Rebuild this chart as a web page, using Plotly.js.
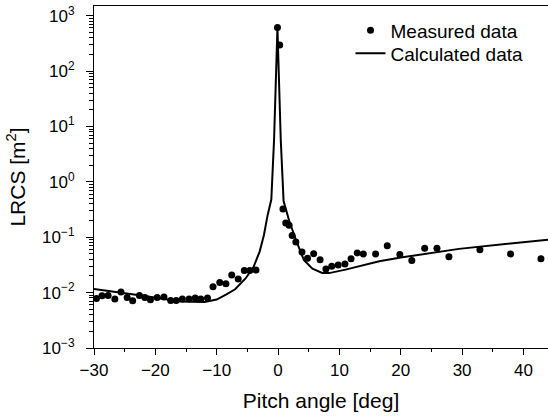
<!DOCTYPE html>
<html>
<head>
<meta charset="utf-8">
<script src="https://cdn.plot.ly/plotly-3.0.1.min.js"></script>
<style>html,body{margin:0;padding:0;background:#fff;}#chart{width:548px;height:418px;}</style>
</head>
<body>
<div id="chart"></div>
<script>
// Measured data (pitch angle in deg, LRCS in m^2)
var measuredAngle = [-29.6, -28.7, -27.7, -26.6, -25.6, -24.6, -23.7, -22.6, -21.7, -20.8,
  -19.7, -18.6, -17.5, -16.6, -15.6, -14.5, -13.5, -12.6, -11.5,
  -10.6, -9.5, -8.5, -7.55, -6.5, -5.5, -4.6, -3.6,
  -0.1, 0.27, 0.8, 1.25, 1.8, 2.3, 2.9, 3.9, 4.8, 5.8, 6.85, 7.8, 8.75, 9.8, 10.9, 11.9, 12.9, 13.9,
  15.9, 17.8, 19.85, 21.8, 23.9, 25.9, 27.85, 32.9, 37.9, 42.85];
var measuredLRCS = [0.0078, 0.0088, 0.0089, 0.0077, 0.0103, 0.0082, 0.0071, 0.0089, 0.0082, 0.0074,
  0.0082, 0.0083, 0.0072, 0.0072, 0.0077, 0.0077, 0.008, 0.0077, 0.008,
  0.0127, 0.0153, 0.0144, 0.0207, 0.0176, 0.025, 0.025, 0.0255,
  609, 295, 0.325, 0.18, 0.164, 0.108, 0.082, 0.054, 0.0417, 0.0505, 0.0394, 0.0267, 0.0298, 0.0316, 0.033, 0.041, 0.052, 0.05,
  0.05, 0.0705, 0.049, 0.0382, 0.063, 0.063, 0.0446, 0.0597, 0.0499, 0.041];

// Calculated data
var calcAngle = [-30, -26, -22, -18, -16, -12, -10, -8.5, -7, -5.3, -4, -3, -2.3, -1.7, -1.1, -0.65, -0.1,
  0.44, 0.9, 1.8, 2.9, 4.2, 5.6, 7.2, 8.3, 11, 16.5, 20, 29.5, 44];
var calcLRCS = [0.0116, 0.0102, 0.0088, 0.0075, 0.0069, 0.0068, 0.0075, 0.0092, 0.0115, 0.018, 0.029, 0.055, 0.11, 0.25, 0.48, 5.8, 600,
  5.8, 0.45, 0.2, 0.09, 0.039, 0.027, 0.0226, 0.0225, 0.026, 0.0367, 0.043, 0.0616, 0.0905];

var xTickVals = [-30, -20, -10, 0, 10, 20, 30, 40];
var yTickVals = [0.001, 0.01, 0.1, 1, 10, 100, 1000];
var yTickText = ['10<sup>\u22123</sup>', '10<sup>\u22122</sup>', '10<sup>\u22121</sup>', '10<sup>0</sup>',
  '10<sup>1</sup>', '10<sup>2</sup>', '10<sup>3</sup>'];

// minor tick positions on the log axis (2..9 of each decade)
var yMinorVals = [];
[0.001, 0.01, 0.1, 1, 10, 100].forEach(function (d) {
  for (var k = 2; k <= 9; k++) yMinorVals.push(d * k);
});

var fontFam = 'Liberation Sans, Arial, Helvetica, sans-serif';

var traces = [
  {
    x: measuredAngle, y: measuredLRCS, type: 'scatter', mode: 'markers',
    name: 'Measured data', legend: 'legend',
    marker: {color: '#000', size: 7}
  },
  {
    x: calcAngle, y: calcLRCS, type: 'scatter', mode: 'lines',
    name: 'Calculated data', legend: 'legend2',
    line: {color: '#000', width: 2}
  }
];

var legendFont = {family: fontFam, size: 19, color: '#000'};

var layout = {
  width: 548, height: 418,
  margin: {l: 94, r: 0, t: 6, b: 70},
  paper_bgcolor: '#fff', plot_bgcolor: '#fff',
  font: {family: fontFam, color: '#000', size: 17},
  showlegend: true,
  legend: {
    x: 0.565, y: 0.984, xanchor: 'left', yanchor: 'top',
    bgcolor: 'rgba(0,0,0,0)', borderwidth: 0, font: legendFont
  },
  legend2: {
    x: 0.565, y: 0.9166, xanchor: 'left', yanchor: 'top',
    bgcolor: 'rgba(0,0,0,0)', borderwidth: 0, font: legendFont
  },
  xaxis: {
    range: [-30, 44],
    tickmode: 'array',
    tickvals: xTickVals,
    ticktext: xTickVals.map(function (v) { return v < 0 ? '\u2212' + Math.abs(v) : String(v); }),
    ticks: 'outside', ticklen: 6, tickwidth: 1, tickcolor: '#000',
    ticklabelstandoff: 1,
    minor: {ticks: 'outside', ticklen: 3, tickwidth: 1, tickcolor: '#000', dtick: 5, tick0: 0, showgrid: false},
    showline: true, linecolor: '#000', linewidth: 1, mirror: true,
    showgrid: false, zeroline: false,
    tickfont: {family: fontFam, size: 17},
    title: {text: 'Pitch angle [deg]', font: {family: fontFam, size: 21}, standoff: 13}
  },
  yaxis: {
    type: 'log',
    range: [-3, 3.175],
    tickmode: 'array',
    tickvals: yTickVals,
    ticktext: yTickText,
    ticks: 'outside', ticklen: 7, tickwidth: 1, tickcolor: '#000',
    ticklabelstandoff: 8,
    minor: {tickmode: 'array', tickvals: yMinorVals, ticks: 'outside', ticklen: 4, tickwidth: 1, tickcolor: '#000', showgrid: false},
    showline: true, linecolor: '#000', linewidth: 1,
    showgrid: false, zeroline: false,
    tickfont: {family: fontFam, size: 17},
    title: {text: 'LRCS [m<sup>2</sup>]', font: {family: fontFam, size: 21}, standoff: 10}
  }
};

Plotly.newPlot('chart', traces, layout, {staticPlot: true, displayModeBar: false});
</script>
</body>
</html>
